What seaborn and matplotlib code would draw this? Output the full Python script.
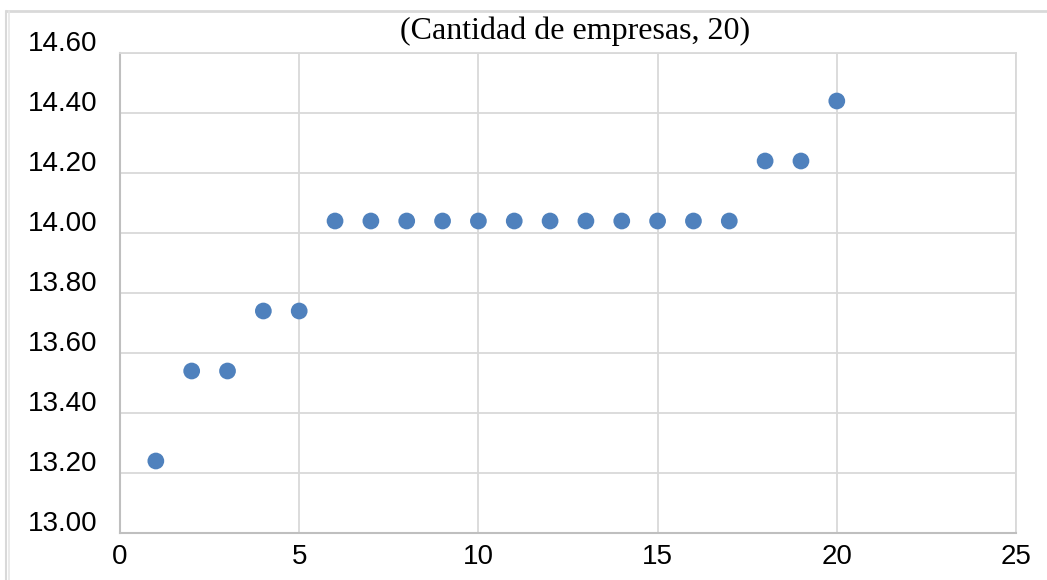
import matplotlib
matplotlib.use("Agg")
import matplotlib.pyplot as plt
import matplotlib.transforms as mtransforms
from matplotlib.lines import Line2D
import pandas as pd
import seaborn as sns

empresas = list(range(1, 21))
valores = [13.24, 13.54, 13.54, 13.74, 13.74,
           14.04, 14.04, 14.04, 14.04, 14.04, 14.04,
           14.04, 14.04, 14.04, 14.04, 14.04, 14.04,
           14.24, 14.24, 14.44]
titulo = "(Cantidad de empresas, 20)"

df = pd.DataFrame({"empresa": empresas, "valor": valores})

sns.set_theme(style="white")
plt.rcParams["font.family"] = ["Liberation Sans", "DejaVu Sans"]

fig = plt.figure(figsize=(10.47, 5.80), dpi=100)
ax = fig.add_axes([120 / 1047, 1 - 533 / 580, (1016 - 120) / 1047, (533 - 53) / 580])

sns.scatterplot(data=df, x="empresa", y="valor", ax=ax, color="#4f81bd",
                s=145, edgecolor="none", zorder=3, legend=False)

ax.set_xlim(0, 25)
ax.set_ylim(13.0, 14.6)
ax.set_xticks([0, 5, 10, 15, 20, 25])
ax.set_yticks([13.0 + 0.2 * i for i in range(9)])
ax.set_yticklabels([f"{13.0 + 0.2 * i:.2f}" for i in range(9)])
ax.grid(True, color="#d9d9d9", linewidth=1.3)
ax.set_xlabel("")
ax.set_ylabel("")
ax.tick_params(axis="both", labelsize=20, colors="black", length=0)
ax.tick_params(axis="y", pad=16.5)
ax.tick_params(axis="x", pad=8)

# etiquetas del eje y un poco por encima de la línea, como en Excel
off = mtransforms.ScaledTranslation(0, 12 / 100, fig.dpi_scale_trans)
for lab in ax.get_yticklabels():
    lab.set_transform(lab.get_transform() + off)

for side in ["top", "right"]:
    ax.spines[side].set_color("#d9d9d9")
    ax.spines[side].set_linewidth(1.3)
for side in ["left", "bottom"]:
    ax.spines[side].set_color("#bfbfbf")
    ax.spines[side].set_linewidth(1.5)

fig.text(575 / 1047, 1 - 31 / 580, titulo, ha="center", va="center",
         fontsize=23, family=["Liberation Serif", "DejaVu Serif"], color="black")

# marco del gráfico
fig.add_artist(Line2D([6 / 1047, 1], [1 - 11 / 580, 1 - 11 / 580],
                      color="#d9d9d9", linewidth=2, transform=fig.transFigure))
fig.add_artist(Line2D([6 / 1047, 6 / 1047], [0, 1 - 11 / 580],
                      color="#d9d9d9", linewidth=1.5, transform=fig.transFigure))
fig.add_artist(Line2D([9 / 1047, 9 / 1047], [0, 1 - 11 / 580],
                      color="#e6e6e6", linewidth=1.2, transform=fig.transFigure))

fig.savefig("out.png", dpi=100, facecolor="white")
